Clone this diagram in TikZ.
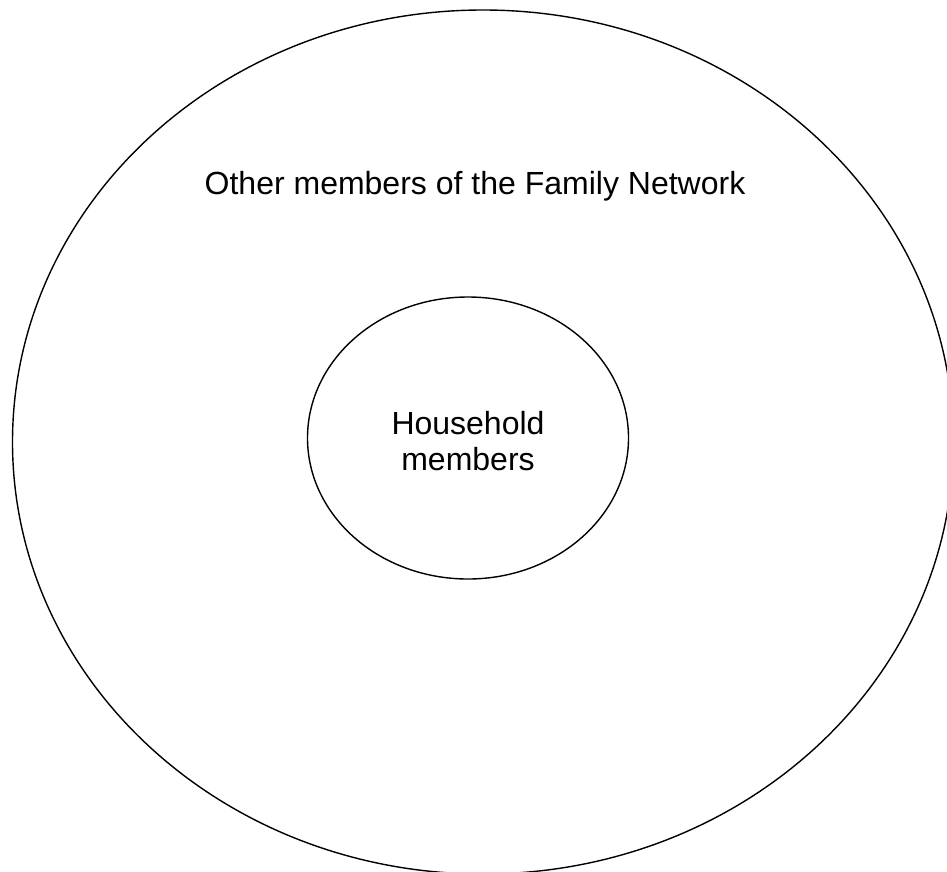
\documentclass[tikz,border=0pt]{standalone}
\usepackage{fontspec}
\setmainfont{Liberation Sans}
\usetikzlibrary{shapes.geometric}
\begin{document}
\begin{tikzpicture}[x=1pt,y=-1pt,
  ring/.style={draw=black,line width=1.4pt,ellipse,inner sep=0pt},
  lbl/.style={font=\fontsize{32}{36.7}\selectfont,inner sep=0pt,align=center}]
\useasboundingbox (0,0) rectangle (947,871);
\begin{scope}
\clip (0,0) rectangle (947,871);
\node[ring,minimum width=941pt,minimum height=864pt] (outer) at (483,442) {};
\end{scope}
\node[ring,minimum width=321pt,minimum height=282pt] (inner) at (468,438) {};
\node[lbl,anchor=base] (othertext) at (475,194) {Other members of the Family Network};
\node[lbl] (hhtext) at (468,441) {Household\\members};
\end{tikzpicture}
\end{document}
